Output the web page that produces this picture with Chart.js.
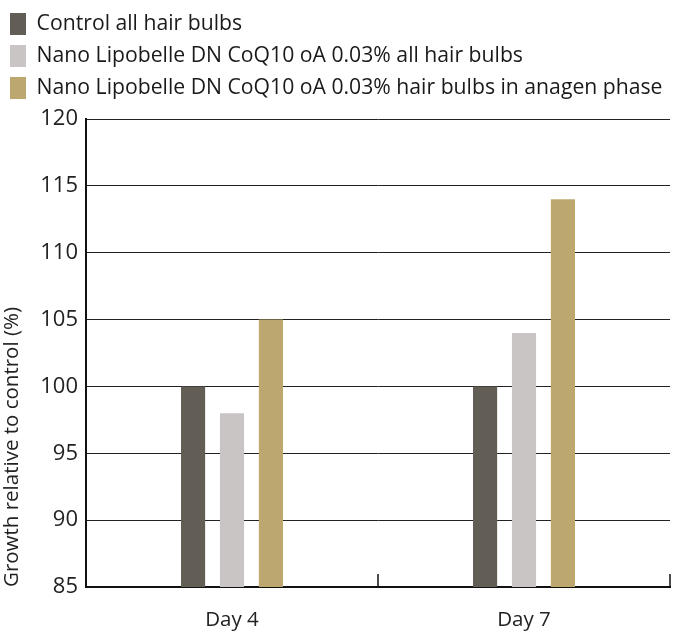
<!DOCTYPE html>
<html>
<head>
<meta charset="utf-8">
<script src="https://cdn.jsdelivr.net/npm/chart.js@4.4.1/dist/chart.umd.min.js"></script>
<style>
  html, body { margin: 0; padding: 0; background: #fff; }
  #wrap { width: 677px; height: 633px; }
</style>
</head>
<body>
<div id="wrap"><canvas id="chartCanvasGrowth"></canvas></div>
<script>
const days = ['Day 4', 'Day 7'];
const seriesNames = [
  'Control all hair bulbs',
  'Nano Lipobelle DN CoQ10 oA 0.03% all hair bulbs',
  'Nano Lipobelle DN CoQ10 oA 0.03% hair bulbs in anagen phase',
];
const controlAll = [100, 100];
const lipobelleAll = [98, 104];
const lipobelleAnagen = [105, 114];
const seriesColors = ['#635e55', '#c9c5c4', '#bca86e'];
const yTicks = [85, 90, 95, 100, 105, 110, 115, 120];

const fontFamily = 'Open Sans';

// short upward ticks at the category boundaries on the x axis
const boundaryTicks = {
  id: 'boundaryTicks',
  beforeInit(chart) {
    // leave a bit more room under the legend
    const fit = chart.legend.fit;
    chart.legend.fit = function () {
      fit.call(this);
      this.height = 116;
    };
  },
  afterDraw(chart) {
    const x = chart.scales.x;
    const ctx = chart.ctx;
    const half = (x.getPixelForValue(1) - x.getPixelForValue(0)) / 2;
    ctx.save();
    ctx.strokeStyle = '#111';
    ctx.lineWidth = 1.5;
    days.forEach((d, i) => {
      const px = x.getPixelForValue(i) + half;
      ctx.beginPath();
      ctx.moveTo(px, x.top);
      ctx.lineTo(px, x.top - 13);
      ctx.stroke();
    });
    ctx.restore();
  },
};

const ctx = document.getElementById('chartCanvasGrowth').getContext('2d');
new Chart(ctx, {
  type: 'bar',
  data: {
    labels: days,
    datasets: [
      { label: seriesNames[0], data: controlAll, backgroundColor: seriesColors[0] },
      { label: seriesNames[1], data: lipobelleAll, backgroundColor: seriesColors[1] },
      { label: seriesNames[2], data: lipobelleAnagen, backgroundColor: seriesColors[2] },
    ],
  },
  options: {
    responsive: true,
    maintainAspectRatio: false,
    animation: false,
    layout: { padding: { left: 0, right: 7, top: 3, bottom: 0 } },
    datasets: {
      bar: { categoryPercentage: 0.4, barPercentage: 0.62 },
    },
    plugins: {
      tooltip: { enabled: false },
      legend: {
        position: 'top',
        align: 'start',
        labels: {
          boxWidth: 16,
          boxHeight: 22,
          padding: 10,
          color: '#1a1a1a',
          font: { family: fontFamily, size: 21.2 },
        },
      },
    },
    scales: {
      x: {
        afterFit: (s) => { s.height = 46; },
        border: { display: true, color: '#111', width: 2 },
        grid: { display: false },
        ticks: {
          color: '#222',
          padding: 13,
          font: { family: fontFamily, size: 20.5 },
        },
      },
      y: {
        min: 85,
        max: 120,
        afterFit: (s) => { s.width = 86; },
        afterBuildTicks: (s) => { s.ticks = yTicks.map((v) => ({ value: v })); },
        border: { display: true, color: '#111', width: 2 },
        grid: { color: '#222', lineWidth: 1, drawTicks: false },
        title: {
          display: true,
          align: 'start',
          text: 'Growth relative to control (%)',
          color: '#222',
          padding: { top: 0, bottom: 2 },
          font: { family: fontFamily, size: 20.5 },
        },
        ticks: {
          color: '#222',
          padding: 8,
          font: { family: fontFamily, size: 22 },
        },
      },
    },
  },
  plugins: [boundaryTicks],
});
</script>
</body>
</html>
